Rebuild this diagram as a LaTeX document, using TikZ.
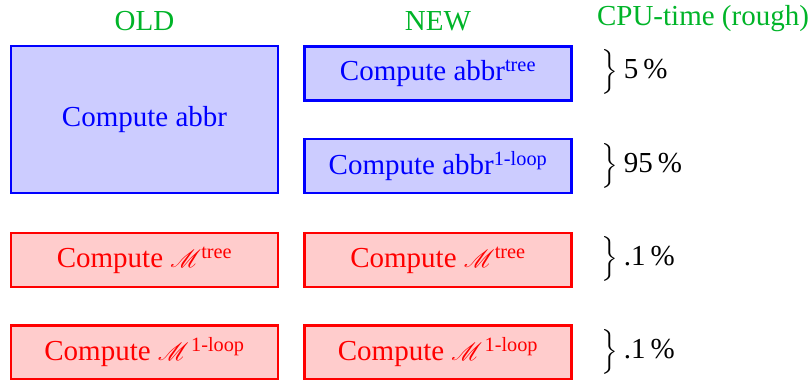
\documentclass[tikz,border=0pt]{standalone}
\usepackage{amsmath}
\usepackage{mathrsfs}
\usepackage{fontspec}
\setmainfont{Liberation Serif}
\definecolor{hdrgreen}{RGB}{0,180,40}
% right brace spanning one row, followed by its share of the run time
\newcommand\cpubrace{$\left.\vcenter{\hbox{\rule{0pt}{44pt}}}\right\}$}
\begin{document}
\begin{tikzpicture}[x=1pt,y=-1pt,
  every node/.style={font=\fontsize{29}{34}\selectfont, inner sep=0pt},
  blk/.style={draw, line width=2.8pt, minimum width=267pt, minimum height=54pt},
  abbrbox/.style={blk, draw=blue, fill=blue!20, text=blue},
  ampbox/.style={blk, draw=red, fill=red!20, text=red},
  hdr/.style={text=hdrgreen},
  share/.style={anchor=west, text=black}]
\useasboundingbox (0,0) rectangle (812,380);

% column headings
\node[hdr] (hold) at (144.5,21) {OLD};
\node[hdr] (hnew) at (438,21) {NEW};
\node[hdr] (hcpu) at (703,19) {CPU-time (rough)};

% abbreviations
\node[abbrbox, minimum height=147pt] (oldabbr) at (144.5,119.5) {Compute abbr};
\node[abbrbox] (newtree) at (438,73.5) {Compute abbr$^{\text{tree}}$};
\node[abbrbox] (newloop) at (438,166) {Compute abbr$^{\text{1-loop}}$};

% amplitudes
\node[ampbox] (oldmtree) at (144.5,260) {Compute $\mathscr{M}^{\text{tree}}$};
\node[ampbox] (newmtree) at (438,260) {Compute $\mathscr{M}^{\text{tree}}$};
\node[ampbox] (oldmloop) at (144.5,352.5) {Compute $\mathscr{M}^{\mkern2mu\text{1-loop}}$};
\node[ampbox] (newmloop) at (438,352.5) {Compute $\mathscr{M}^{\mkern2mu\text{1-loop}}$};

% run-time shares
\node[share] (ctree) at (600,72) {\cpubrace\hspace{6pt}5\,\%};
\node[share] (cloop) at (600,166) {\cpubrace\hspace{6pt}95\,\%};
\node[share] (cmtree) at (600,259) {\cpubrace\hspace{6pt}.1\,\%};
\node[share] (cmloop) at (600,352) {\cpubrace\hspace{6pt}.1\,\%};
\end{tikzpicture}
\end{document}
